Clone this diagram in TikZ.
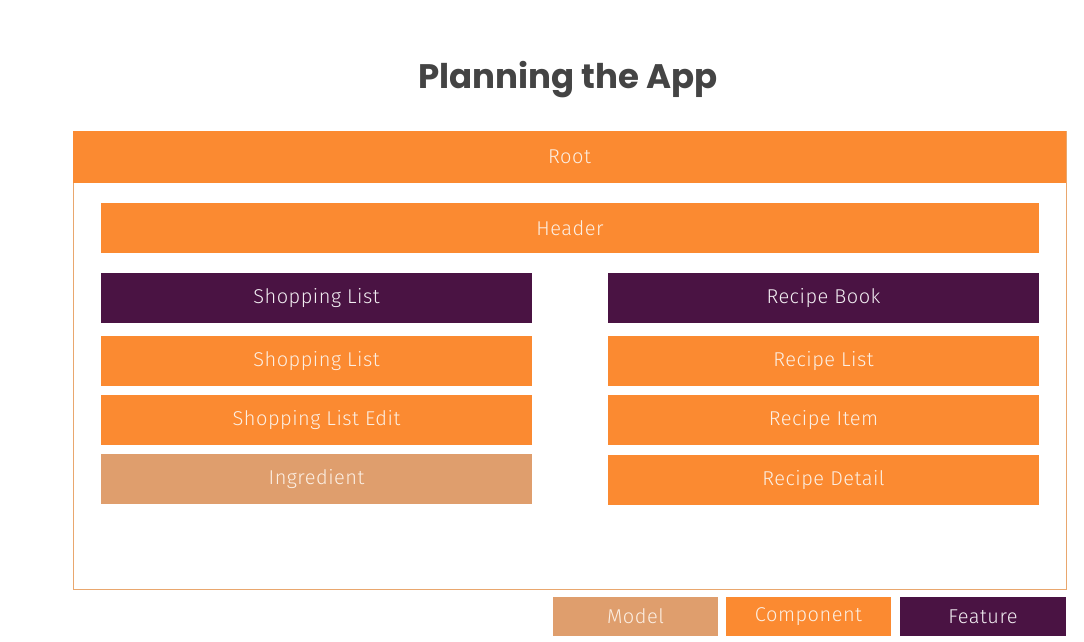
\documentclass[tikz,border=0pt]{standalone}
\usepackage{fontspec}
\setmainfont{Fira Sans Light}[LetterSpace=2.5]
\newfontfamily\titlefont{Poppins}
\definecolor{compfill}{HTML}{FB8A31}
\definecolor{featfill}{HTML}{4A1343}
\definecolor{modelfill}{HTML}{DF9E6D}
\definecolor{frameline}{HTML}{E9A76E}
\definecolor{titlegray}{HTML}{444444}
\definecolor{labeltext}{HTML}{FCEFE3}
\begin{document}
\begin{tikzpicture}[x=1pt,y=-1pt,
  box/.style={draw=none,inner sep=0pt,outer sep=0pt,anchor=north west,
    text=labeltext,font=\fontsize{20}{23}\selectfont},
  comp/.style={box,fill=compfill},
  feat/.style={box,fill=featfill,text=white!93!featfill},
  model/.style={box,fill=modelfill},
  halfw/.style={minimum width=431pt,minimum height=50pt},
  legw/.style={minimum width=165pt,minimum height=39pt}]
\useasboundingbox (0,0) rectangle (1084,641);
\fill[white] (0,0) rectangle (1084,641);

% title
\node[font=\titlefont\bfseries\fontsize{34}{40}\selectfont,text=titlegray] (title) at (568,80) {Planning the App};

% outer frame with root bar
\draw[frameline,line width=1pt] (73,131) rectangle (1066,589);
\node[comp,minimum width=993pt,minimum height=52pt] (root) at (73,131) {Root};
\node[comp,minimum width=938pt,minimum height=50pt] (header) at (101,203) {Header};

% shopping list column
\node[feat,halfw] (slfeat) at (101,273) {Shopping List};
\node[comp,halfw] (sl) at (101,336) {Shopping List};
\node[comp,halfw] (sledit) at (101,395) {Shopping List Edit};
\node[model,halfw] (ingr) at (101,454) {Ingredient};

% recipe book column
\node[feat,halfw] (rbfeat) at (608,273) {Recipe Book};
\node[comp,halfw] (rlist) at (608,336) {Recipe List};
\node[comp,halfw] (ritem) at (608,395) {Recipe Item};
\node[comp,halfw] (rdetail) at (608,455) {Recipe Detail};

% legend
\node[model,legw] (legmodel) at (553,597) {Model};
\node[comp,legw] (legcomp) at (726,597) {Component};
\node[feat,legw,minimum width=166pt] (legfeat) at (900,597) {Feature};
\end{tikzpicture}
\end{document}
